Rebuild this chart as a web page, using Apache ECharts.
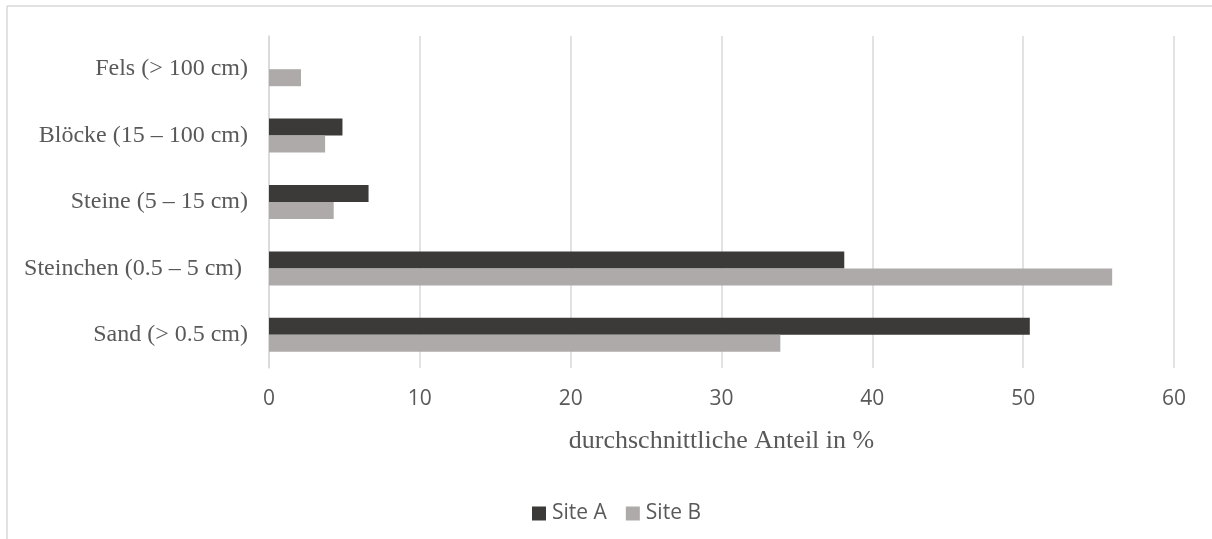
<!DOCTYPE html>
<html>
<head>
<meta charset="utf-8">
<script src="https://cdn.jsdelivr.net/npm/echarts@6/dist/echarts.min.js"></script>
<style>
  html, body { margin: 0; padding: 0; background: #fff; }
  #chart { width: 1212px; height: 539px; }
</style>
</head>
<body>
<div id="chart"></div>
<script>
// Sediment classes, listed top to bottom
const categories = ['Fels (> 100 cm)', 'Blöcke (15 – 100 cm)', 'Steine (5 – 15 cm)', 'Steinchen (0.5 – 5 cm) ', 'Sand (> 0.5 cm)'];
const siteA = [null, 4.87, 6.6, 38.14, 50.44];
const siteB = [2.12, 3.72, 4.29, 55.9, 33.9];
const seriesNames = ['Site A', 'Site B'];
const axisTitle = 'durchschnittliche Anteil in %';

const chart = echarts.init(document.getElementById('chart'));
const serif = '"Liberation Serif", "Times New Roman", serif';
const sans = '"Open Sans", "Noto Sans", sans-serif';

chart.setOption({
  animation: false,
  backgroundColor: '#fff',
  legend: {
    data: seriesNames,
    left: 527,
    top: 498,
    icon: 'rect',
    itemWidth: 14,
    itemHeight: 14,
    itemGap: 19,
    textStyle: { fontFamily: sans, fontSize: 21, color: '#595959', padding: [0, 0, 0, 1] }
  },
  grid: { left: 269, right: 38, top: 36, bottom: 171, containLabel: false },
  xAxis: {
    type: 'value',
    min: 0,
    max: 60,
    interval: 10,
    name: axisTitle,
    nameLocation: 'middle',
    nameGap: 60,
    nameTextStyle: { fontFamily: serif, fontSize: 26, color: '#595959', verticalAlign: 'top' },
    axisLine: { show: false },
    axisTick: { show: false },
    splitLine: { show: true, lineStyle: { color: '#d9d9d9', width: 1.5 } },
    axisLabel: { fontFamily: sans, fontSize: 21, color: '#595959', margin: 21 }
  },
  yAxis: {
    type: 'category',
    data: categories,
    inverse: true,
    axisLine: { show: true, lineStyle: { color: '#d9d9d9', width: 1.5 } },
    axisTick: { show: false },
    axisLabel: { fontFamily: serif, fontSize: 24, color: '#595959', margin: 21, padding: [4, 0, 0, 0] }
  },
  series: [
    {
      name: seriesNames[0],
      type: 'bar',
      data: siteA,
      barWidth: 17,
      barGap: '0%',
      itemStyle: { color: '#3b3a38' }
    },
    {
      name: seriesNames[1],
      type: 'bar',
      data: siteB,
      barWidth: 17,
      barGap: '0%',
      itemStyle: { color: '#aeaaa9' }
    }
  ],
  graphic: [
    // outer chart frame, visible along top and left edges
    { type: 'line', shape: { x1: 7, y1: 6, x2: 1212, y2: 6 }, style: { stroke: '#d9d9d9', lineWidth: 1.5 } },
    { type: 'line', shape: { x1: 7, y1: 6, x2: 7, y2: 539 }, style: { stroke: '#d9d9d9', lineWidth: 1.5 } }
  ]
});
</script>
</body>
</html>
